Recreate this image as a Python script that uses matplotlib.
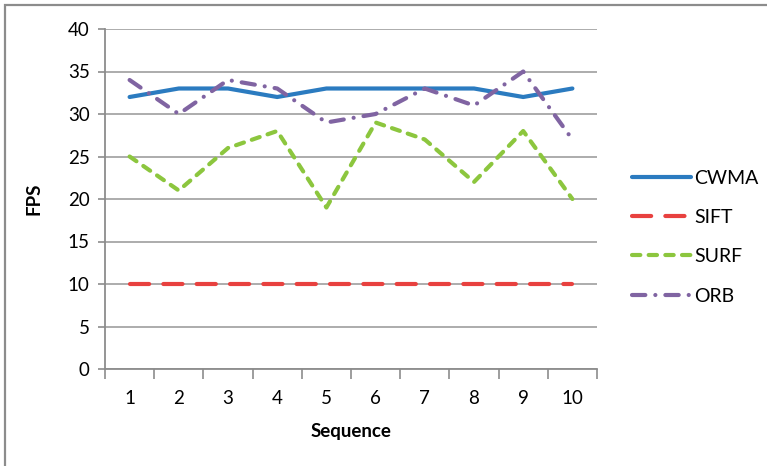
import matplotlib
matplotlib.use("Agg")
import matplotlib.pyplot as plt
from matplotlib.patches import Rectangle

plt.rcParams['font.family'] = ['Lato', 'DejaVu Sans']

sequence = [1, 2, 3, 4, 5, 6, 7, 8, 9, 10]
cwma = [32, 33, 33, 32, 33, 33, 33, 33, 32, 33]
sift = [10, 10, 10, 10, 10, 10, 10, 10, 10, 10]
surf = [25, 21, 26, 28, 19, 29, 27, 22, 28, 20]
orb = [34, 30, 34, 33, 29, 30, 33, 31, 35, 27]
y_ticks = [0, 5, 10, 15, 20, 25, 30, 35, 40]

fig = plt.figure(figsize=(7.67, 4.66), dpi=100)
ax = fig.add_axes([105/767, 1-369/466, (597-105)/767, (369-29)/466])

lw = 3.0
ax.plot(sequence, cwma, color='#2B7BC0', lw=lw, solid_capstyle='round', label='CWMA', zorder=3)
ax.plot(sequence, sift, color='#E8413F', lw=lw, dashes=(4.6, 3.4), dash_capstyle='round', label='SIFT', zorder=3)
ax.plot(sequence, surf, color='#8CC63E', lw=lw, dashes=(2.0, 2.0), dash_capstyle='round', label='SURF', zorder=3)
ax.plot(sequence, orb, color='#8064A2', lw=lw, dashes=(3.2, 2.4, 0.01, 2.4), dash_capstyle='round', label='ORB', zorder=3)

ax.set_xlim(0.5, 10.5)
ax.set_ylim(0, 40)
ax.set_yticks(y_ticks)
ax.set_xticks(sequence)
ax.set_xticks([i + 0.5 for i in range(0, 11)], minor=True)
ax.tick_params(axis='x', which='major', length=0, labelsize=13.5, pad=15)
ax.tick_params(axis='x', which='minor', length=7, width=1.2, color='#8C8C8C')
ax.tick_params(axis='y', length=5, width=1.2, color='#8C8C8C', labelsize=13.5, pad=6)
ax.grid(axis='y', color='#A6A6A6', lw=1.3, zorder=0)
ax.set_axisbelow(True)
for s in ['top', 'right']:
    ax.spines[s].set_visible(False)
for s in ['left', 'bottom']:
    ax.spines[s].set_color('#8C8C8C')
    ax.spines[s].set_linewidth(1.3)

ax.set_xlabel('Sequence', fontsize=13.5, fontweight='bold', labelpad=12)
ax.set_ylabel('FPS', fontsize=13.5, fontweight='bold', labelpad=18)

leg = ax.legend(loc='center left', bbox_to_anchor=(1.056, 0.388), borderaxespad=0, frameon=False,
                fontsize=14, handlelength=3.0, handletextpad=0.2, labelspacing=1.15)

fig.patches.append(Rectangle((5/767, -0.1), 1.1, 1 - 5/466 + 0.1, transform=fig.transFigure,
                             fill=False, edgecolor='#8C8C8C', lw=1.6))

fig.savefig('out.png', dpi=100)
